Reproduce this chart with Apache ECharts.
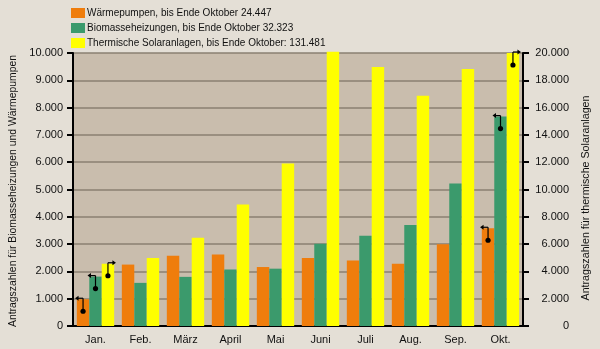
<!DOCTYPE html>
<html>
<head>
<meta charset="utf-8">
<script src="https://cdn.jsdelivr.net/npm/echarts@6/dist/echarts.min.js"></script>
<style>
  html, body { margin: 0; padding: 0; background: #e4dfd6; }
  #chart { width: 600px; height: 349px; }
</style>
</head>
<body>
<div id="chart"></div>
<script>
// Monthly application counts (Jan. – Okt.)
const months = ['Jan.', 'Feb.', 'März', 'April', 'Mai', 'Juni', 'Juli', 'Aug.', 'Sep.', 'Okt.'];
const waermepumpen = [980, 2250, 2570, 2620, 2160, 2490, 2400, 2280, 2990, 3580];
const biomasse = [1810, 1580, 1800, 2070, 2100, 3010, 3310, 3700, 5220, 7670];
const solar = [4560, 4980, 6470, 8900, 11900, 20100, 18970, 16860, 18820, 20000];

const seriesNames = [
  'Wärmepumpen, bis Ende Oktober 24.447',
  'Biomasseheizungen, bis Ende Oktober 32.323',
  'Thermische Solaranlagen, bis Ende Oktober: 131.481'
];
const leftTicks = ['0', '1.000', '2.000', '3.000', '4.000', '5.000', '6.000', '7.000', '8.000', '9.000', '10.000'];
const rightTicks = ['0', '2.000', '4.000', '6.000', '8.000', '10.000', '12.000', '14.000', '16.000', '18.000', '20.000'];

// Axis pointers: [month index, series slot, direction (-1 left axis, 1 right axis)]
const pointerMarks = [[0, 0, -1], [0, 1, -1], [0, 2, 1], [9, 0, -1], [9, 1, -1], [9, 2, 1]];

const colors = ['#ef7d0c', '#3b9a6c', '#ffff00'];
const FONT = 'Liberation Sans, Arial, sans-serif';
const CAT_GAP = 0.17;

const chart = echarts.init(document.getElementById('chart'));

const valuesBySlot = [waermepumpen, biomasse, solar];
const pointerData = pointerMarks.map(function (m) {
  return [m[0], valuesBySlot[m[1]][m[0]], m[1], m[2]];
});

function renderPointer(params, api) {
  const cat = api.value(0);
  const val = api.value(1);
  const slot = api.value(2);
  const dir = api.value(3);
  const cw = api.size([1, 0])[0];
  const bw = cw * (1 - CAT_GAP) / 3;
  const axisIdx = slot === 2 ? 1 : 0;
  // convert value through the proper axis: right axis has twice the range
  const scaledVal = axisIdx === 1 ? val / 2 : val;
  const top = api.coord([cat, scaledVal]);
  const x = top[0] + (slot - 1) * bw;
  const yTop = top[1] - 1;
  const yDot = top[1] + 12;
  const tipX = x + dir * 6;
  const stroke = { stroke: '#000', lineWidth: 1.2 };
  return {
    type: 'group',
    children: [
      { type: 'line', shape: { x1: x, y1: yDot, x2: x, y2: yTop }, style: stroke },
      { type: 'line', shape: { x1: x, y1: yTop, x2: tipX, y2: yTop }, style: stroke },
      { type: 'polygon', shape: { points: [[tipX + dir * 2, yTop], [tipX - dir * 1.5, yTop - 2.5], [tipX - dir * 1.5, yTop + 2.5]] }, style: { fill: '#000' } },
      { type: 'circle', shape: { cx: x, cy: yDot, r: 2.6 }, style: { fill: '#000' } }
    ]
  };
}

const option = {
  backgroundColor: '#e4dfd6',
  textStyle: { fontFamily: FONT },
  animation: false,
  legend: {
    orient: 'vertical',
    left: 66,
    top: 3,
    itemWidth: 14,
    itemHeight: 10,
    itemGap: 5,
    icon: 'rect',
    data: seriesNames,
    textStyle: { fontSize: 10, color: '#111', fontFamily: FONT, padding: [0, 0, 0, -3] }
  },
  grid: {
    left: 73,
    right: 77,
    top: 53,
    bottom: 23,
    show: true,
    backgroundColor: '#c9bdad',
    borderWidth: 0
  },
  xAxis: {
    type: 'category',
    data: months,
    axisLine: { show: true, lineStyle: { color: '#000', width: 2 } },
    axisTick: { show: false },
    axisLabel: { color: '#111', fontSize: 11, margin: 8, fontFamily: FONT },
    splitLine: { show: false }
  },
  yAxis: [
    {
      type: 'value',
      min: 0, max: 10000, interval: 1000,
      name: 'Antragszahlen für Biomasseheizungen und Wärmepumpen',
      nameLocation: 'middle',
      nameGap: 51,
      nameTextStyle: { fontSize: 10.4, color: '#111', fontFamily: FONT, padding: [0, 3, 0, 0] },
      axisLine: { show: true, lineStyle: { color: '#000', width: 2 } },
      axisTick: { show: true, length: 6, lineStyle: { color: '#000', width: 2 } },
      axisLabel: {
        color: '#111', fontSize: 11, margin: 10, fontFamily: FONT,
        formatter: function (v) { return leftTicks[Math.round(v / 1000)]; }
      },
      splitLine: { show: true, lineStyle: { color: '#8a8072', width: 1.5 } }
    },
    {
      type: 'value',
      min: 0, max: 20000, interval: 2000,
      name: 'Antragszahlen für thermische Solaranlagen',
      nameLocation: 'middle',
      nameGap: 58,
      nameTextStyle: { fontSize: 10.7, color: '#111', fontFamily: FONT, padding: [0, 17, 0, 0] },
      axisLine: { show: true, lineStyle: { color: '#000', width: 2 } },
      axisTick: { show: true, length: 6, lineStyle: { color: '#000', width: 2 } },
      axisLabel: {
        color: '#111', fontSize: 11, margin: 46, align: 'right', fontFamily: FONT,
        formatter: function (v) { return rightTicks[Math.round(v / 2000)]; }
      },
      splitLine: { show: false }
    }
  ],
  series: [
    {
      name: seriesNames[0], type: 'bar', data: waermepumpen, yAxisIndex: 0,
      itemStyle: { color: colors[0] }, barGap: '0%', barCategoryGap: (CAT_GAP * 100) + '%'
    },
    {
      name: seriesNames[1], type: 'bar', data: biomasse, yAxisIndex: 0,
      itemStyle: { color: colors[1] }, barGap: '0%', barCategoryGap: (CAT_GAP * 100) + '%'
    },
    {
      name: seriesNames[2], type: 'bar', data: solar, yAxisIndex: 1, clip: false,
      itemStyle: { color: colors[2] }, barGap: '0%', barCategoryGap: (CAT_GAP * 100) + '%'
    },
    {
      type: 'custom', yAxisIndex: 0, data: pointerData, renderItem: renderPointer,
      clip: false, silent: true, z: 5, encode: { x: 0, y: 1 }
    }
  ]
};

chart.setOption(option);
</script>
</body>
</html>
